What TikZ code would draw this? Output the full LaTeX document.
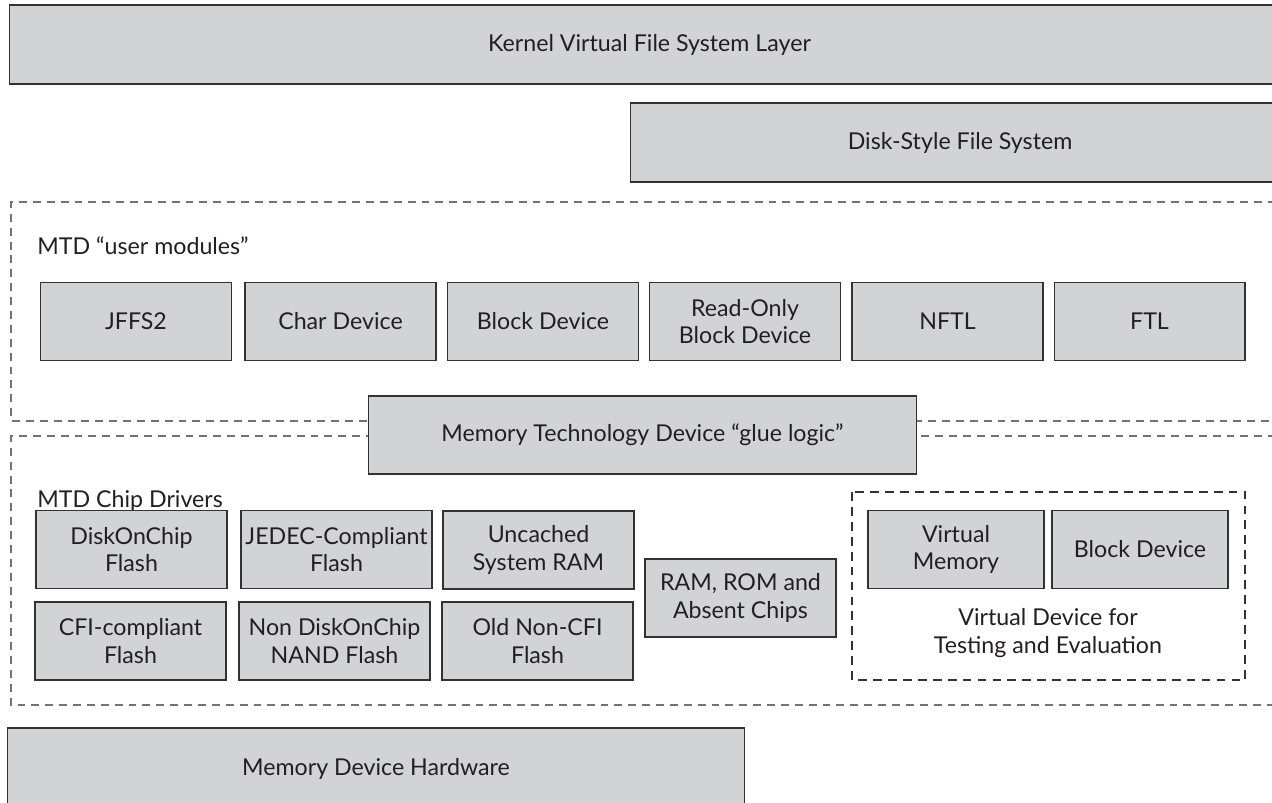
\documentclass[tikz,border=0pt]{standalone}
\usepackage{fontspec}
\setmainfont{Lato}
\definecolor{boxgray}{RGB}{210,211,213}
\definecolor{boxline}{RGB}{50,50,50}
\definecolor{dashgray}{RGB}{115,115,115}
\definecolor{inkgray}{RGB}{35,31,32}
\tikzset{
    blk/.style={draw=boxline, fill=boxgray, line width=0.6pt, text=inkgray, align=center, inner sep=0pt,
        minimum width=3.82cm, minimum height=1.56cm, font=\fontsize{13.2}{15.5}\selectfont},
    region/.style={draw=dashgray, line width=0.6pt, dash pattern=on 4.5pt off 3.4pt},
    vregion/.style={draw=boxline, line width=1.1pt, dash pattern=on 5pt off 3.5pt},
    lbl/.style={text=inkgray, anchor=west, inner sep=0pt, font=\fontsize{13.2}{15.5}\selectfont}
}
\begin{document}
\begin{tikzpicture}[x=0.02cm, y=-0.02cm]
    \useasboundingbox (0,0) rectangle (1272,802);
    \clip (0,0) rectangle (1272,802);
    % top layers
    \node[blk, minimum width=25.62cm, minimum height=1.58cm](vfs) at (649.5,44.5){Kernel Virtual File System Layer};
    \node[blk, minimum width=13.2cm, minimum height=1.58cm](disk) at (960,142.5){Disk-Style File System};
    % dashed regions
    \draw[region](1290,202)--(11,202)--(11,421)--(1290,421);
    \draw[region](1290,436)--(11,436)--(11,705)--(1290,705);
    \node[lbl](usr) at (37,246){MTD “user modules”};
    \node[lbl](chips) at (37,501){MTD Chip Drivers};
    % user modules
    \node[blk](jffs) at (136,321.5){JFFS2};
    \node[blk](chr) at (340.5,321.5){Char Device};
    \node[blk](blkdev) at (543,321.5){Block Device};
    \node[blk](roblk) at (745,321.5){Read-Only\\Block Device};
    \node[blk](nftl) at (947.5,321.5){NFTL};
    \node[blk](ftl) at (1149.5,321.5){FTL};
    % glue logic
    \node[blk, minimum width=10.98cm](glue) at (642.5,435){Memory Technology Device “glue logic”};
    % chip drivers
    \node[blk](doc) at (131.5,549.5){DiskOnChip\\Flash};
    \node[blk](jedec) at (336.5,549.5){JEDEC-Compliant\\Flash};
    \node[blk](uncached) at (538.5,550){Uncached\\System RAM};
    \node[blk](cfi) at (130.5,641){CFI-compliant\\Flash};
    \node[blk](nand) at (334.5,641){Non DiskOnChip\\NAND Flash};
    \node[blk](oldcfi) at (537.5,641){Old Non-CFI\\Flash};
    \node[blk](ramrom) at (740.5,598){RAM, ROM and\\Absent Chips};
    % virtual device
    \draw[vregion](852,492) rectangle (1245,680);
    \node[blk, minimum width=3.52cm](vmem) at (956,549.5){Virtual\\Memory};
    \node[blk, minimum width=3.52cm](vblk) at (1140,549.5){Block Device};
    \node[text=inkgray, align=center, font=\fontsize{13.2}{15.5}\selectfont](vdev) at (1048,633){Virtual Device for\\Testing and Evaluation};
    % hardware
    \node[blk, minimum width=14.76cm, minimum height=1.64cm](hw) at (376,769){Memory Device Hardware};
\end{tikzpicture}
\end{document}
